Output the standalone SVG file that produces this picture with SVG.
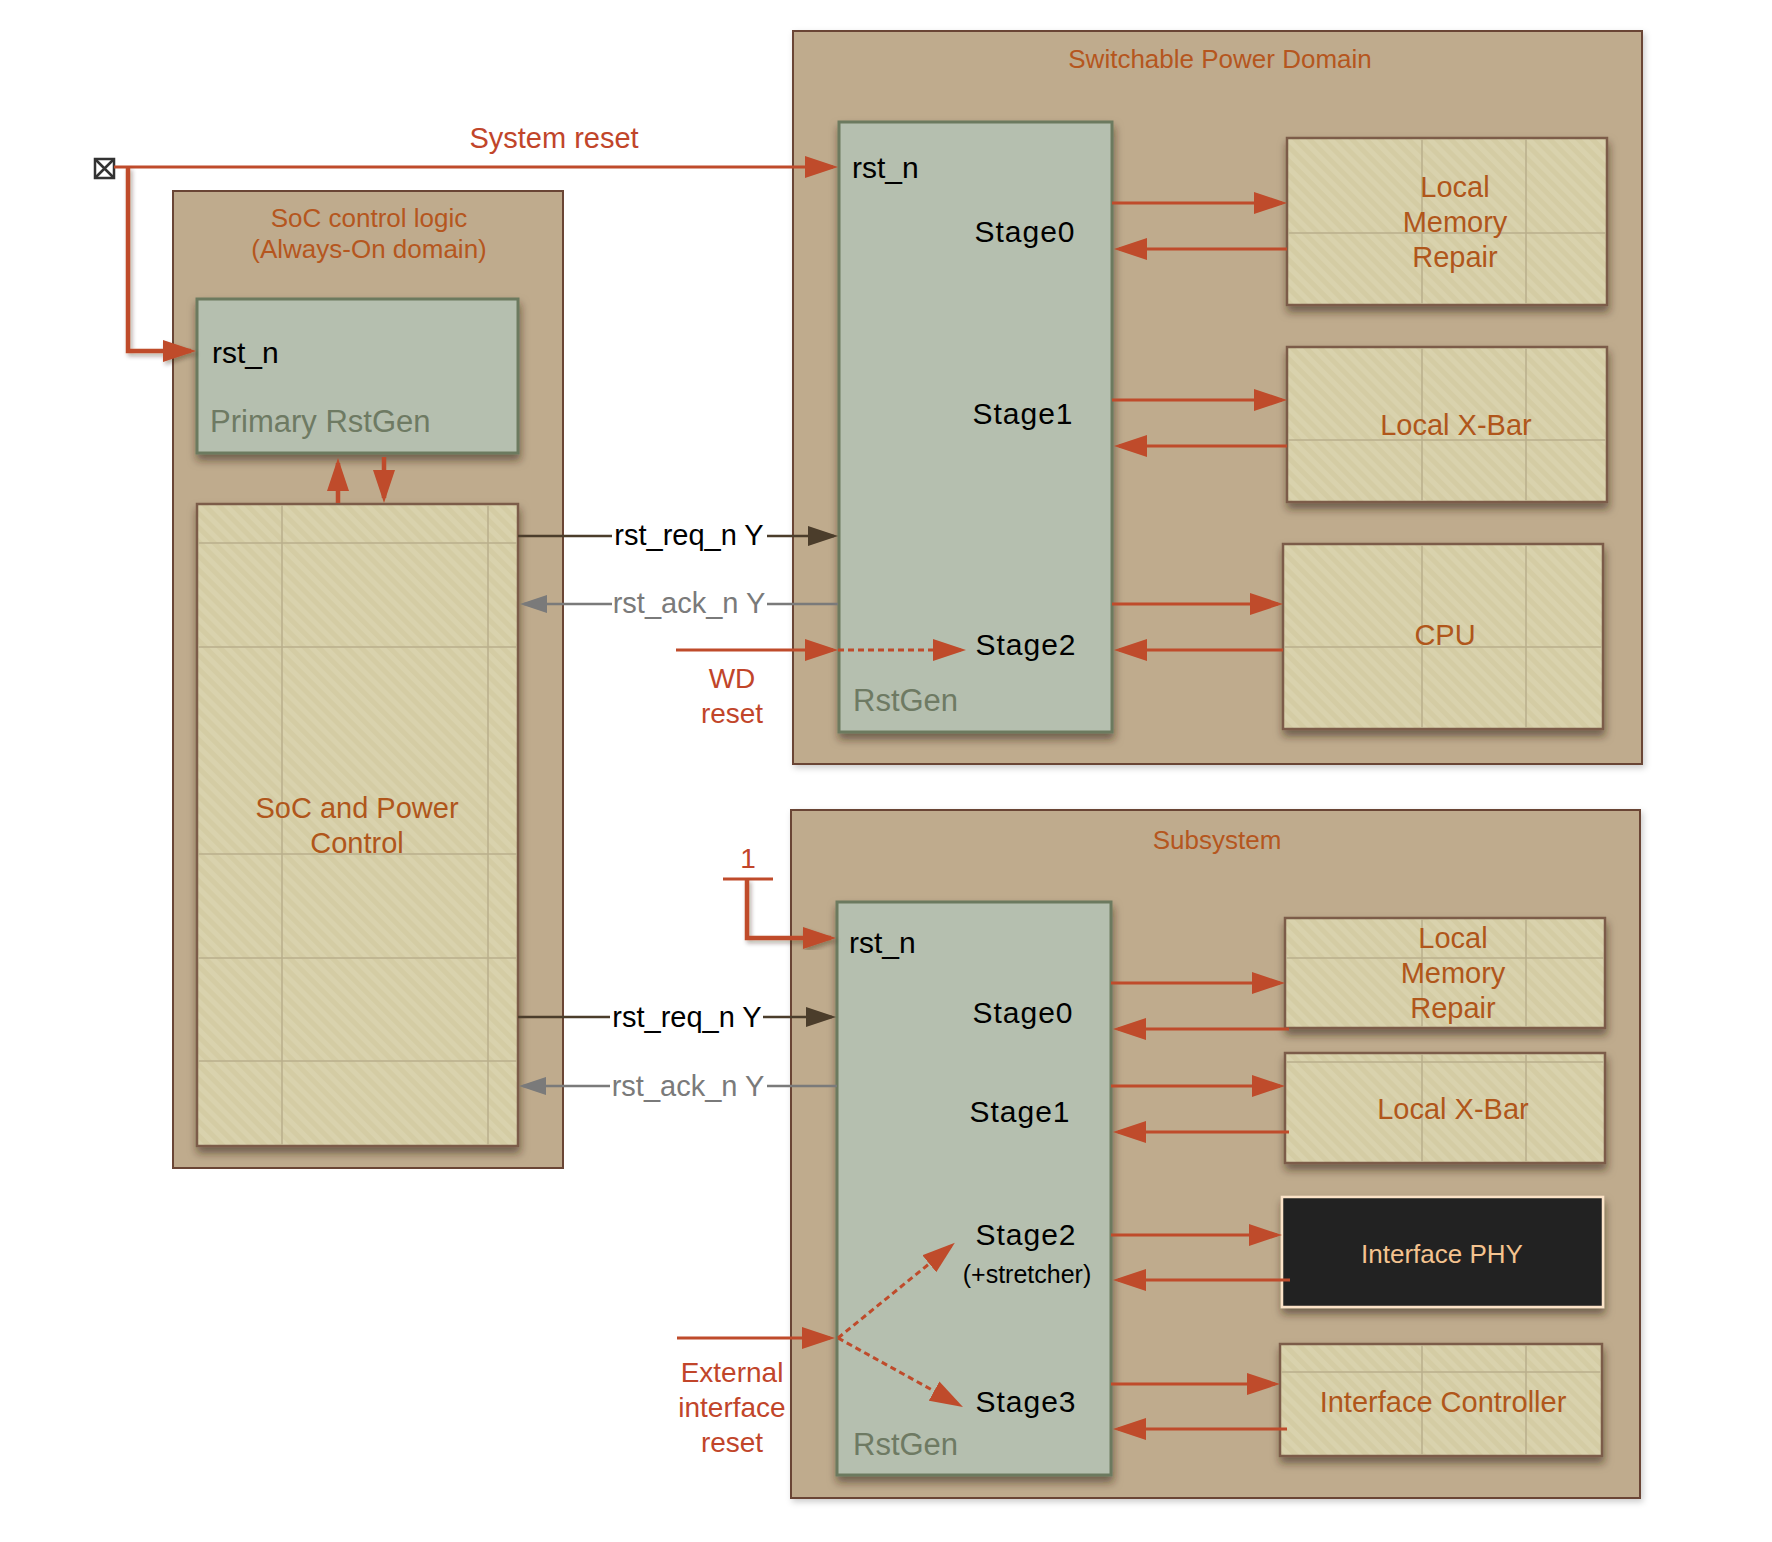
<svg xmlns="http://www.w3.org/2000/svg" width="1772" height="1542" viewBox="0 0 1772 1542">
<defs>
<style>
text{font-family:"Liberation Sans",Arial,sans-serif}
.outer{fill:#BFAB8D;stroke:#6A4535;stroke-width:2}
.rg{fill:#B5BFAF;stroke:#6C7A5F;stroke-width:3}
.tile{fill:url(#stripes);stroke:#7B5B4A;stroke-width:2.5}
.grid{fill:none;stroke:#B9AF8C;stroke-width:1.5}
.phy{fill:#222222;stroke:#FCE3C8;stroke-width:2.5}
.title{font-size:26px;fill:#B5561E;text-anchor:middle}
.node{font-size:29px;fill:#B0561B;text-anchor:middle}
.red{font-size:28px;fill:#C1452A;text-anchor:middle}
.blk{font-size:30px;fill:#000}
.stg{font-size:30px;fill:#000;text-anchor:middle;letter-spacing:1px}
.gen{font-size:31px;fill:#6E7A63}
.sig{font-size:29px;fill:#000;text-anchor:middle}
.sigg{font-size:29px;fill:#7A7A7A;text-anchor:middle}
.w{fill:none;stroke:#BF4B2B;stroke-width:3}
.wb{fill:none;stroke:#BF4B2B;stroke-width:4.5}
.dot{fill:none;stroke:#BF4B2B;stroke-width:3;stroke-dasharray:6 4}
.req{fill:none;stroke:#4B3D2B;stroke-width:2.5}
.ack{fill:none;stroke:#7A7A7A;stroke-width:2.5}
</style>
<pattern id="stripes" width="10" height="10" patternUnits="userSpaceOnUse" patternTransform="rotate(-45)">
<rect width="10" height="10" fill="#D4CCA4"/>
<rect width="5" height="10" fill="#D9D2AD"/>
</pattern>
<filter id="sh" x="-10%" y="-10%" width="125%" height="130%">
<feDropShadow dx="1" dy="6" stdDeviation="4" flood-color="#2E1C0C" flood-opacity="0.55"/>
</filter>
<filter id="shl" x="-10%" y="-10%" width="130%" height="130%">
<feDropShadow dx="2" dy="3" stdDeviation="2" flood-color="#2E1C0C" flood-opacity="0.35"/>
</filter>
<filter id="sho" x="-5%" y="-5%" width="110%" height="110%">
<feDropShadow dx="2" dy="3" stdDeviation="3" flood-color="#000" flood-opacity="0.2"/>
</filter>
<marker id="ah" markerUnits="userSpaceOnUse" markerWidth="33" markerHeight="22" refX="28" refY="11" orient="auto">
<path d="M0,0 L33,11 L0,22 Z" fill="#BF4B2B"/>
</marker>
<marker id="ahd" markerUnits="userSpaceOnUse" markerWidth="30" markerHeight="20" refX="26" refY="10" orient="auto">
<path d="M0,0 L30,10 L0,20 Z" fill="#4B3D2B"/>
</marker>
<marker id="ahg" markerUnits="userSpaceOnUse" markerWidth="27" markerHeight="18" refX="23" refY="9" orient="auto">
<path d="M0,0 L27,9 L0,18 Z" fill="#7A7A7A"/>
</marker>
</defs>
<rect width="1772" height="1542" fill="#FFFFFF"/>

<g id="soc-control-logic">
<rect class="outer" x="173" y="191" width="390" height="977"/>
<text class="title" x="369" y="227">SoC control logic</text>
<text class="title" x="369" y="258">(Always-On domain)</text>
</g>
<g id="switchable-power-domain">
<rect class="outer" x="793" y="31" width="849" height="733" filter="url(#sho)"/>
<text class="title" x="1220" y="68">Switchable Power Domain</text>
</g>
<g id="subsystem">
<rect class="outer" x="791" y="810" width="849" height="688" filter="url(#sho)"/>
<text class="title" x="1217" y="849">Subsystem</text>
</g>

<g id="primary-rstgen">
<rect class="rg" x="197" y="299" width="321" height="154" filter="url(#sh)"/>
<text class="blk" x="212" y="363">rst_n</text>
<text class="gen" x="210" y="432">Primary RstGen</text>
</g>
<g id="soc-power-control">
<rect class="tile" x="197" y="504" width="321" height="642" filter="url(#sh)"/>
<path class="grid" d="M282,505V1145M488,505V1145M198,543H517M198,647H517M198,854H517M198,958H517M198,1061H517"/>
<text class="node" x="357" y="818">SoC and Power</text>
<text class="node" x="357" y="853">Control</text>
</g>

<g id="rstgen-top">
<rect class="rg" x="839" y="122" width="273" height="610" filter="url(#sh)"/>
<text class="blk" x="852" y="178">rst_n</text>
<text class="stg" x="1025" y="242">Stage0</text>
<text class="stg" x="1023" y="424">Stage1</text>
<text class="stg" x="1026" y="655">Stage2</text>
<text class="gen" x="853" y="711">RstGen</text>
</g>
<g id="lmr-top">
<rect class="tile" x="1287" y="138" width="320" height="167" filter="url(#sh)"/>
<path class="grid" d="M1422,139V304M1526,139V304M1288,233H1606"/>
<text class="node" x="1455" y="197">Local</text>
<text class="node" x="1455" y="232">Memory</text>
<text class="node" x="1455" y="267">Repair</text>
</g>
<g id="xbar-top">
<rect class="tile" x="1287" y="347" width="320" height="155" filter="url(#sh)"/>
<path class="grid" d="M1422,348V501M1526,348V501M1288,440H1606"/>
<text class="node" x="1456" y="435">Local X-Bar</text>
</g>
<g id="cpu">
<rect class="tile" x="1283" y="544" width="320" height="185" filter="url(#sh)"/>
<path class="grid" d="M1422,545V728M1526,545V728M1284,647H1602"/>
<text class="node" x="1445" y="645">CPU</text>
</g>

<g id="rstgen-sub">
<rect class="rg" x="837" y="902" width="274" height="573" filter="url(#sh)"/>
<text class="blk" x="849" y="953">rst_n</text>
<text class="stg" x="1023" y="1023">Stage0</text>
<text class="stg" x="1020" y="1122">Stage1</text>
<text class="stg" x="1026" y="1245">Stage2</text>
<text x="1027" y="1283" style="font-size:25px;fill:#000;text-anchor:middle">(+stretcher)</text>
<text class="stg" x="1026" y="1412">Stage3</text>
<text class="gen" x="853" y="1455">RstGen</text>
</g>
<g id="lmr-sub">
<rect class="tile" x="1285" y="918" width="320" height="110" filter="url(#sh)"/>
<path class="grid" d="M1422,919V1027M1526,919V1027M1286,958H1604"/>
<text class="node" x="1453" y="948">Local</text>
<text class="node" x="1453" y="983">Memory</text>
<text class="node" x="1453" y="1018">Repair</text>
</g>
<g id="xbar-sub">
<rect class="tile" x="1285" y="1053" width="320" height="110" filter="url(#sh)"/>
<path class="grid" d="M1422,1054V1162M1526,1054V1162M1286,1062H1604"/>
<text class="node" x="1453" y="1119">Local X-Bar</text>
</g>
<g id="interface-phy">
<rect class="phy" x="1282" y="1197" width="321" height="110" filter="url(#sh)"/>
<text x="1442" y="1263" style="font-size:26px;fill:#F4C38F;text-anchor:middle">Interface PHY</text>
</g>
<g id="interface-controller">
<rect class="tile" x="1280" y="1344" width="322" height="112" filter="url(#sh)"/>
<path class="grid" d="M1422,1345V1455M1526,1345V1455M1281,1372H1601"/>
<text class="node" x="1443" y="1412">Interface Controller</text>
</g>

<g id="reset-pin">
<rect x="95" y="159" width="19" height="19" fill="#FFFFFF" stroke="#333333" stroke-width="2.5"/>
<path d="M95,159L114,178M114,159L95,178" stroke="#333333" stroke-width="2.5"/>
</g>

<g id="connectors">
<path class="w" d="M114,167H833" marker-end="url(#ah)"/>
<path class="wb" d="M128,167V351H191" marker-end="url(#ah)" filter="url(#shl)"/>
<path class="w" d="M723,879H773"/>
<path class="wb" d="M747,879V938H831" marker-end="url(#ah)" filter="url(#shl)"/>
<path class="wb" d="M338,503V463" marker-end="url(#ah)"/>
<path class="wb" d="M384,457V498" marker-end="url(#ah)"/>

<path class="w" d="M1112,203H1282" marker-end="url(#ah)"/>
<path class="w" d="M1287,249H1119" marker-end="url(#ah)"/>
<path class="w" d="M1112,400H1282" marker-end="url(#ah)"/>
<path class="w" d="M1287,446H1119" marker-end="url(#ah)"/>
<path class="w" d="M1112,604H1278" marker-end="url(#ah)"/>
<path class="w" d="M1283,650H1119" marker-end="url(#ah)"/>

<path class="req" d="M518,536H612"/>
<path class="req" d="M767,536H834" marker-end="url(#ahd)"/>
<path class="ack" d="M838,604H767"/>
<path class="ack" d="M612,604H524" marker-end="url(#ahg)"/>
<path class="w" d="M676,650H833" marker-end="url(#ah)"/>
<path class="dot" d="M838,650H961" marker-end="url(#ah)"/>

<path class="req" d="M518,1017H610"/>
<path class="req" d="M763,1017H832" marker-end="url(#ahd)"/>
<path class="ack" d="M837,1086H767"/>
<path class="ack" d="M610,1086H523" marker-end="url(#ahg)"/>

<path class="w" d="M1111,983H1280" marker-end="url(#ah)"/>
<path class="w" d="M1289,1029H1118" marker-end="url(#ah)"/>
<path class="w" d="M1111,1086H1280" marker-end="url(#ah)"/>
<path class="w" d="M1289,1132H1118" marker-end="url(#ah)"/>
<path class="w" d="M1111,1235H1277" marker-end="url(#ah)"/>
<path class="w" d="M1290,1280H1118" marker-end="url(#ah)"/>
<path class="w" d="M1111,1384H1275" marker-end="url(#ah)"/>
<path class="w" d="M1287,1429H1118" marker-end="url(#ah)"/>

<path class="w" d="M677,1338H830" marker-end="url(#ah)"/>
<path class="dot" d="M838,1338L951,1246" marker-end="url(#ah)"/>
<path class="dot" d="M838,1338L958.6,1404.6" marker-end="url(#ah)"/>

<text class="red" x="554" y="148" style="font-size:29px">System reset</text>
<text class="sig" x="689" y="545">rst_req_n Y</text>
<text class="sigg" x="689" y="613">rst_ack_n Y</text>
<text class="sig" x="687" y="1027">rst_req_n Y</text>
<text class="sigg" x="688" y="1096">rst_ack_n Y</text>
<text class="red" x="732" y="688">WD</text>
<text class="red" x="732" y="723">reset</text>
<text class="red" x="748" y="868">1</text>
<text class="red" x="732" y="1382">External</text>
<text class="red" x="732" y="1417">interface</text>
<text class="red" x="732" y="1452">reset</text>
</g>
</svg>
